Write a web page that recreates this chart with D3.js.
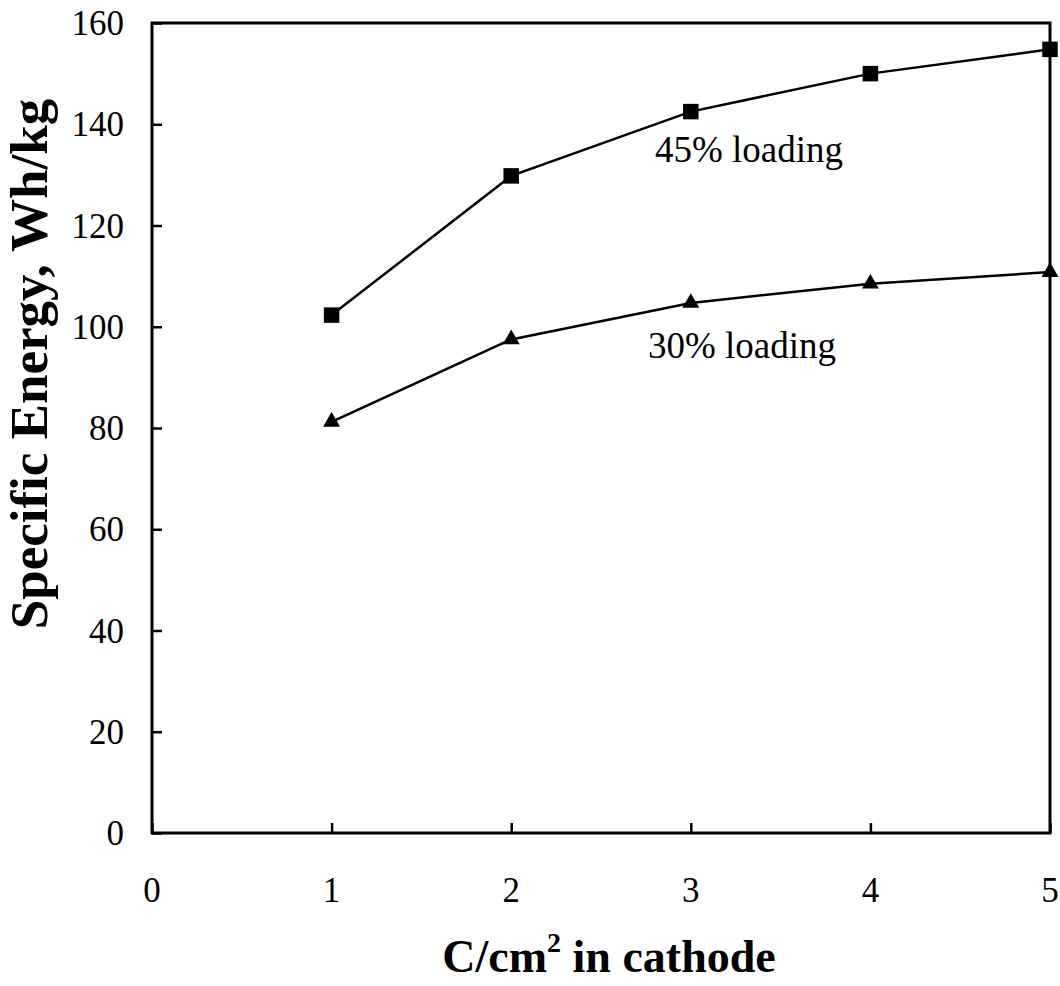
<!DOCTYPE html>
<html>
<head>
<meta charset="utf-8">
<script src="https://cdn.jsdelivr.net/npm/d3@7"></script>
<style>
  body { margin: 0; background: #fff; }
  text { font-family: "Liberation Serif", "Times New Roman", serif; fill: #000; }
</style>
</head>
<body>
<div id="chart"></div>
<script>
let xValues = [1, 2, 3, 4, 5];
let load45 = [102.3, 129.8, 142.5, 150.0, 154.8];
let load30 = [81.2, 97.5, 104.7, 108.5, 110.8];
let xTicks = [0, 1, 2, 3, 4, 5];
let yTicks = [0, 20, 40, 60, 80, 100, 120, 140, 160];

let width = 1060,
	height = 986,
	margin = {left: 152, right: 10, top: 23, bottom: 153};

let xScale = d3.scaleLinear()
	.domain([0, 5])
	.range([margin.left, width - margin.right]);

let yScale = d3.scaleLinear()
	.domain([0, 160])
	.range([height - margin.bottom, margin.top]);

let svg = d3.select('#chart').append('svg')
	.attr('width', width)
	.attr('height', height);

// frame
svg.append('rect')
	.attr('x', xScale(0))
	.attr('y', yScale(160))
	.attr('width', xScale(5) - xScale(0))
	.attr('height', yScale(0) - yScale(160))
	.attr('fill', 'none')
	.attr('stroke', '#000')
	.attr('stroke-width', 3);

// axes with inward ticks
let yAxis = svg.append('g')
	.attr('transform', 'translate(' + xScale(0) + ',0)')
	.call(d3.axisRight(yScale).tickValues(yTicks).tickSize(10).tickFormat(''));
yAxis.select('.domain').remove();
yAxis.selectAll('line').attr('stroke-width', 2.5);

let xAxis = svg.append('g')
	.attr('transform', 'translate(0,' + yScale(0) + ')')
	.call(d3.axisTop(xScale).tickValues(xTicks).tickSize(10).tickFormat(''));
xAxis.select('.domain').remove();
xAxis.selectAll('line').attr('stroke-width', 2.5);

// tick labels
svg.selectAll('.ylab')
	.data(yTicks)
	.enter().append('text')
	.attr('x', xScale(0) - 28)
	.attr('y', d => yScale(d) + 12)
	.attr('text-anchor', 'end')
	.style('font-size', '35px')
	.text(d => d);

svg.selectAll('.xlab')
	.data(xTicks)
	.enter().append('text')
	.attr('x', d => xScale(d))
	.attr('y', yScale(0) + 69)
	.attr('text-anchor', 'middle')
	.style('font-size', '35px')
	.text(d => d);

// lines
let line = d3.line()
	.x((d, i) => xScale(xValues[i]))
	.y(d => yScale(d));

[load45, load30].forEach(s => {
	svg.append('path')
		.datum(s)
		.attr('d', line)
		.attr('fill', 'none')
		.attr('stroke', '#000')
		.attr('stroke-width', 2.5);
});

svg.selectAll('.sq')
	.data(load45)
	.enter().append('path')
	.attr('transform', (d, i) => 'translate(' + xScale(xValues[i]) + ',' + yScale(d) + ')')
	.attr('d', d3.symbol(d3.symbolSquare, 240))
	.attr('fill', '#000');

svg.selectAll('.tri')
	.data(load30)
	.enter().append('path')
	.attr('transform', (d, i) => 'translate(' + xScale(xValues[i]) + ',' + yScale(d) + ')')
	.attr('d', d3.symbol(d3.symbolTriangle, 125))
	.attr('fill', '#000');

// annotations
svg.append('text')
	.attr('x', 655).attr('y', 162)
	.style('font-size', '37px')
	.text('45% loading');

svg.append('text')
	.attr('x', 648).attr('y', 358)
	.style('font-size', '37px')
	.text('30% loading');

// axis titles
let xt = svg.append('text')
	.attr('x', 609).attr('y', 972)
	.attr('text-anchor', 'middle')
	.style('font-size', '46px')
	.style('font-weight', 'bold');
xt.append('tspan').text('C/cm');
xt.append('tspan').attr('dy', -20).style('font-size', '28px').text('2');
xt.append('tspan').attr('dy', 20).text(' in cathode');

svg.append('text')
	.attr('transform', 'translate(47,364) rotate(-90)')
	.attr('text-anchor', 'middle')
	.style('font-size', '53px')
	.style('font-weight', 'bold')
	.text('Specific Energy, Wh/kg');
</script>
</body>
</html>
